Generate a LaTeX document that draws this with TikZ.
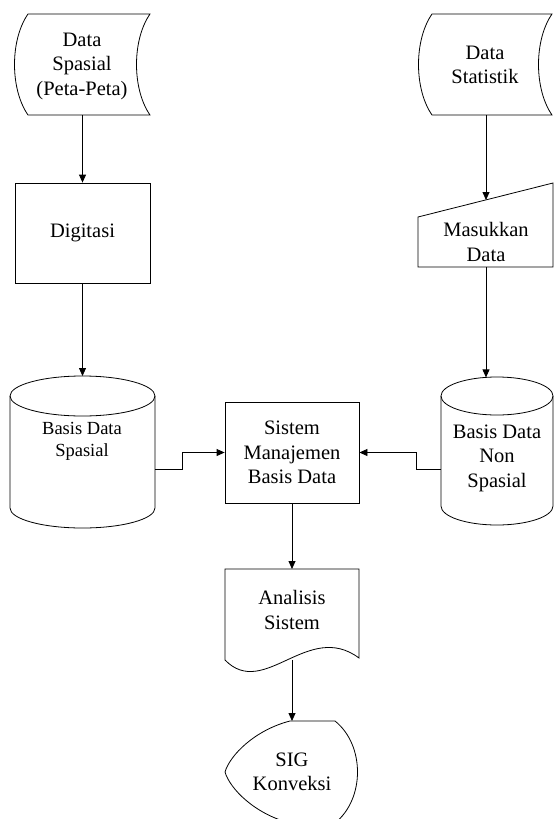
\documentclass[tikz,border=0pt]{standalone}
\usepackage{fontspec}
\setmainfont{Liberation Serif}
\usetikzlibrary{calc,arrows.meta}
\tikzset{
  outline/.style={draw=black, line width=0.8pt},
  flow/.style={-{Triangle[length=8pt,width=7pt]}, draw=black, line width=0.8pt},
  txt/.style={black, align=center, inner sep=0pt, font=\fontsize{20.5}{24.5}\selectfont},
  smalltxt/.style={txt, font=\fontsize{18.5}{22}\selectfont},
  procbox/.style={outline, txt, rectangle, minimum width=135pt, minimum height=100pt}
}
\begin{document}
\begin{tikzpicture}[x=1pt,y=-1pt]
  \useasboundingbox (0,0) rectangle (555,819);

  % Data Spasial (stored data)
  \draw[outline] (28,14) -- (150,14) .. controls (132,40) and (132,89) .. (150,115)
    -- (28,115) .. controls (10,89) and (10,40) .. cycle;
  \node[txt] (dspasial) at (82,66) {Data\\Spasial\\(Peta-Peta)};
  \coordinate (dspasial-s) at (82.5,115);

  % Data Statistik (stored data)
  \draw[outline] (432,14) -- (552,14) .. controls (534,40) and (534,89) .. (552,115)
    -- (432,115) .. controls (414,89) and (414,40) .. cycle;
  \node[txt] (dstat) at (485,65) {Data\\Statistik};
  \coordinate (dstat-s) at (486,115);

  % Digitasi
  \node[procbox] (digitasi) at (82.5,233) {Digitasi};

  % Masukkan Data (manual input)
  \draw[outline] (418,217) -- (553,183) -- (553,267) -- (418,267) -- cycle;
  \node[txt] (masuk) at (486,242) {Masukkan\\Data};
  \coordinate (masuk-n) at (486,200);
  \coordinate (masuk-s) at (486,267);

  % Basis Data Spasial (cylinder)
  \draw[outline] (10,396) -- (10,508) arc[start angle=180, end angle=0, x radius=72.5, y radius=20]
    -- (155,396);
  \draw[outline] (82.5,396) ellipse[x radius=72.5, y radius=20];
  \node[smalltxt] (bdspasial) at (82,441) {Basis Data\\Spasial};
  \coordinate (bdspasial-n) at (82.5,376);
  \coordinate (bdspasial-e) at (155,469);

  % Basis Data Non Spasial (cylinder)
  \draw[outline] (441,396) -- (441,506) arc[start angle=180, end angle=0, x radius=56, y radius=19]
    -- (553,396);
  \draw[outline] (497,396) ellipse[x radius=56, y radius=19];
  \node[txt] (bdnon) at (497,458) {Basis Data\\Non\\Spasial};
  \coordinate (bdnon-n) at (486,377.4);
  \coordinate (bdnon-w) at (441,469);

  % Sistem Manajemen Basis Data
  \node[procbox, minimum width=134pt, minimum height=101pt] (sbd) at (292,452.5)
    {Sistem\\Manajemen\\Basis Data};

  % Analisis Sistem (document)
  \draw[outline] (225,569) -- (359,569) -- (359,658)
    .. controls (308,620) and (264,700) .. (225,660) -- cycle;
  \node[txt] (analisis) at (292,610) {Analisis\\Sistem};
  \coordinate (analisis-n) at (292,569);
  \coordinate (analisis-s) at (292,660);

  % SIG Konveksi (display)
  \draw[outline] (290,721) -- (335,721) .. controls (365,745) and (365,799) .. (335,823)
    -- (290,823) .. controls (255,814) and (230,789) .. (225,772)
    .. controls (230,755) and (255,730) .. cycle;
  \node[txt] (sig) at (292,772) {SIG\\Konveksi};
  \coordinate (sig-n) at (292,721);

  % connectors
  \draw[flow] (dspasial-s) -- (digitasi.north);
  \draw[flow] (digitasi.south) -- (bdspasial-n);
  \draw[flow] (dstat-s) -- (masuk-n);
  \draw[flow] (masuk-s) -- (bdnon-n);
  \draw[flow] (bdspasial-e) -- ++(27,0) |- (sbd.west);
  \draw[flow] (bdnon-w) -- ++(-25,0) |- (sbd.east);
  \draw[flow] (sbd.south) -- (analisis-n);
  \draw[flow] (analisis-s) -- (sig-n);
\end{tikzpicture}
\end{document}
